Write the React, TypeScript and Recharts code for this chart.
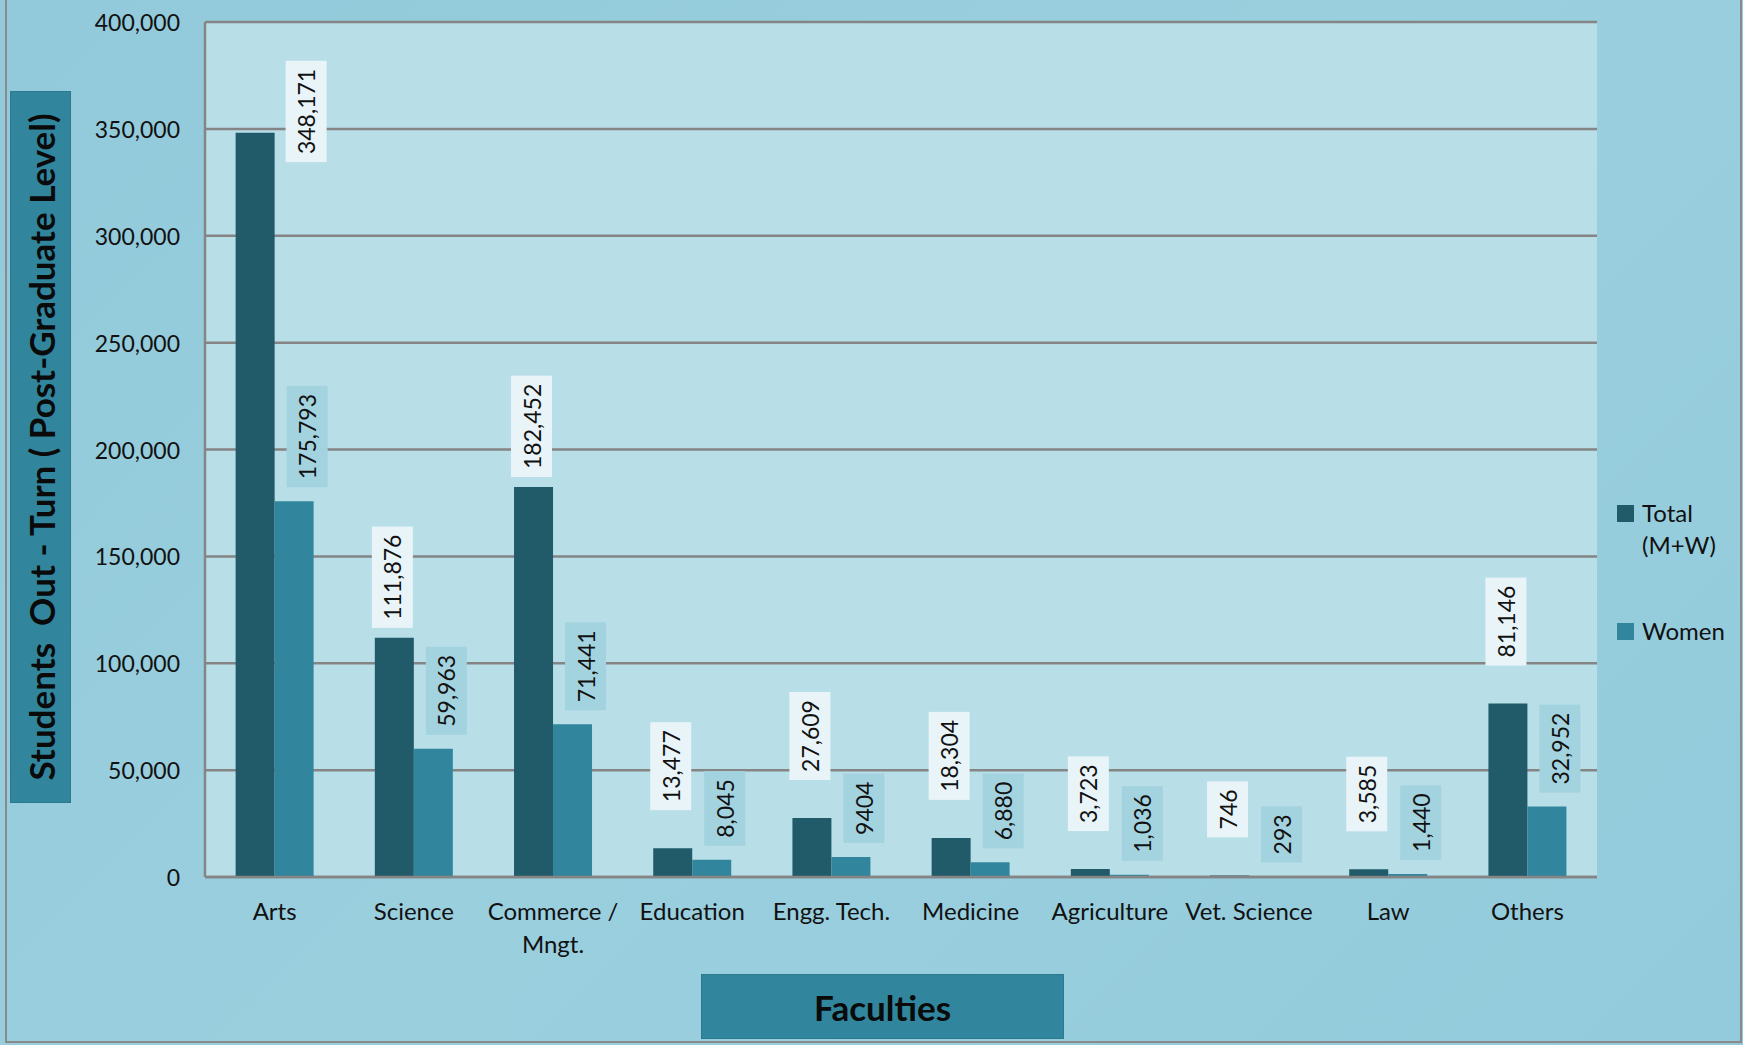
import React from 'react';
import { BarChart, Bar, XAxis, YAxis, CartesianGrid, LabelList, Legend } from 'recharts';

const categories = ['Arts', 'Science', 'Commerce / Mngt.', 'Education', 'Engg. Tech.', 'Medicine', 'Agriculture', 'Vet. Science', 'Law', 'Others'];
const totalValues = [348171, 111876, 182452, 13477, 27609, 18304, 3723, 746, 3585, 81146];
const womenValues = [175793, 59963, 71441, 8045, 9404, 6880, 1036, 293, 1440, 32952];
const totalLabelText = ['348,171', '111,876', '182,452', '13,477', '27,609', '18,304', '3,723', '746', '3,585', '81,146'];
const womenLabelText = ['175,793', '59,963', '71,441', '8,045', '9404', '6,880', '1,036', '293', '1,440', '32,952'];
const yTicks = [0, 50000, 100000, 150000, 200000, 250000, 300000, 350000, 400000];

const data = categories.map((c, i) => ({ name: c, total: totalValues[i], women: womenValues[i] }));

const FONT = 'Lato, "Open Sans", sans-serif';
const W = 1743;
const H = 1045;
const PLOT_TOP = 22;
const TOTAL_COLOR = '#215A69';
const WOMEN_COLOR = '#31869D';

function textLen(s: string, fs: number) {
  let w = 0;
  for (const ch of s) w += ch === ',' ? 0.23 : 0.58;
  return w * fs;
}

function makeLabel(kind: 'total' | 'women') {
  return (props: any) => {
    const { x, y, width, index } = props;
    const txt = kind === 'total' ? totalLabelText[index] : womenLabelText[index];
    const fs = 23;
    const bw = 41;
    const bh = textLen(txt, fs) + 16;
    const val = kind === 'total' ? totalValues[index] : womenValues[index];
    let cx: number;
    let bottom: number;
    if (kind === 'total') {
      cx = x + width / 2 - 2;
      bottom = y - (val > 100000 ? 10 : 38);
      if (bottom - bh < PLOT_TOP + 20) {
        cx = x + width + 11 + bw / 2;
        bottom = y - 72 + bh;
      }
    } else {
      cx = x + width / 2 + 13;
      bottom = y - 14;
    }
    const cy = bottom - bh / 2;
    return (
      <g>
        <rect x={cx - bw / 2} y={bottom - bh} width={bw} height={bh}
          fill={kind === 'total' ? '#E8F4F7' : '#A3D3DF'} />
        <text x={cx} y={cy} transform={`rotate(-90 ${cx} ${cy})`} textAnchor="middle"
          dominantBaseline="central" fontSize={fs} fontFamily={FONT} fill="#111">
          {txt}
        </text>
      </g>
    );
  };
}

const XTick = (props: any) => {
  const { x, y, payload } = props;
  const v: string = payload.value;
  const lines = v.includes(' / ') ? [v.split(' / ')[0] + ' /', v.split(' / ')[1]] : [v];
  return (
    <g>
      {lines.map((l, i) => (
        <text key={i} x={x} y={y + 25 + i * 33} textAnchor="middle" dominantBaseline="central"
          fontSize={24} fontFamily={FONT} fill="#111">{l}</text>
      ))}
    </g>
  );
};

const YTick = (props: any) => {
  const { y, payload } = props;
  return (
    <text x={180} y={y} textAnchor="end" dominantBaseline="central" fontSize={23} fontFamily={FONT} fill="#111">
      {Number(payload.value).toLocaleString('en-US')}
    </text>
  );
};

const LegendContent = () => (
  <div style={{ fontFamily: FONT, fontSize: 24, color: '#111', lineHeight: '32px' }}>
    <div style={{ display: 'flex', alignItems: 'flex-start' }}>
      <div style={{ width: 17, height: 17, background: TOTAL_COLOR, marginTop: 8, marginRight: 8 }} />
      <div>Total<br />(M+W)</div>
    </div>
    <div style={{ display: 'flex', alignItems: 'flex-start', marginTop: 54 }}>
      <div style={{ width: 17, height: 17, background: WOMEN_COLOR, marginTop: 8, marginRight: 8 }} />
      <div>Women</div>
    </div>
  </div>
);

export default function App() {
  return (
    <div style={{ position: 'relative', width: W, height: H, background: 'linear-gradient(135deg, #92CADB 0%, #9ACFDE 50%, #93CBDC 100%)', overflow: 'hidden' }}>
      <style>{`body{margin:0;}`}</style>
      <BarChart width={W} height={H} data={data}
        margin={{ top: PLOT_TOP, right: 146, bottom: 88, left: 0 }}
        barCategoryGap="22%" barGap={0}>
        <CartesianGrid vertical={false} horizontal={true} stroke="#858585" strokeWidth={2.5}
          fill="#B8DEE8" fillOpacity={1} />
        <XAxis dataKey="name" height={80} tick={<XTick />} tickLine={false} axisLine={{ stroke: '#858585', strokeWidth: 2.5 }} interval={0} />
        <YAxis width={205} domain={[0, 400000]} ticks={yTicks} tick={<YTick />} tickLine={false}
          axisLine={{ stroke: '#858585', strokeWidth: 2.5 }} interval={0} />
        <Legend layout="vertical" verticalAlign="middle" align="center" content={<LegendContent />}
          wrapperStyle={{ left: 1617, top: 497, width: 124, right: 'auto', bottom: 'auto' }} />
        <Bar dataKey="total" fill={TOTAL_COLOR} isAnimationActive={false}>
          <LabelList dataKey="total" content={makeLabel('total')} />
        </Bar>
        <Bar dataKey="women" fill={WOMEN_COLOR} isAnimationActive={false}>
          <LabelList dataKey="women" content={makeLabel('women')} />
        </Bar>
      </BarChart>
      <div style={{ position: 'absolute', left: 5, top: 0, width: 2, height: H - 3, background: '#8a8a8a' }} />
      <div style={{ position: 'absolute', left: W - 3, top: 0, width: 2, height: H - 3, background: '#8a8a8a' }} />
      <div style={{ position: 'absolute', left: 5, top: H - 4, width: W - 6, height: 2, background: '#8a8a8a' }} />
      <div style={{ position: 'absolute', left: 10, top: 91, width: 61, height: 712, background: '#31859C', border: '1px solid #2b7890', boxSizing: 'border-box' }}>
        <div style={{ position: 'absolute', left: '50%', top: '50%', transform: 'translate(-50%, -50%) rotate(-90deg)', whiteSpace: 'nowrap', fontFamily: FONT, fontWeight: 700, fontSize: 35, color: '#0a0a0a' }}>
          Students&nbsp; Out - Turn ( Post-Graduate Level)
        </div>
      </div>
      <div style={{ position: 'absolute', left: 701, top: 974, width: 363, height: 65, background: '#31859C', border: '1px solid #2b7890', boxSizing: 'border-box', display: 'flex', alignItems: 'center', justifyContent: 'center', fontFamily: FONT, fontWeight: 700, fontSize: 35, color: '#0a0a0a' }}>
        Faculties
      </div>
    </div>
  );
}
